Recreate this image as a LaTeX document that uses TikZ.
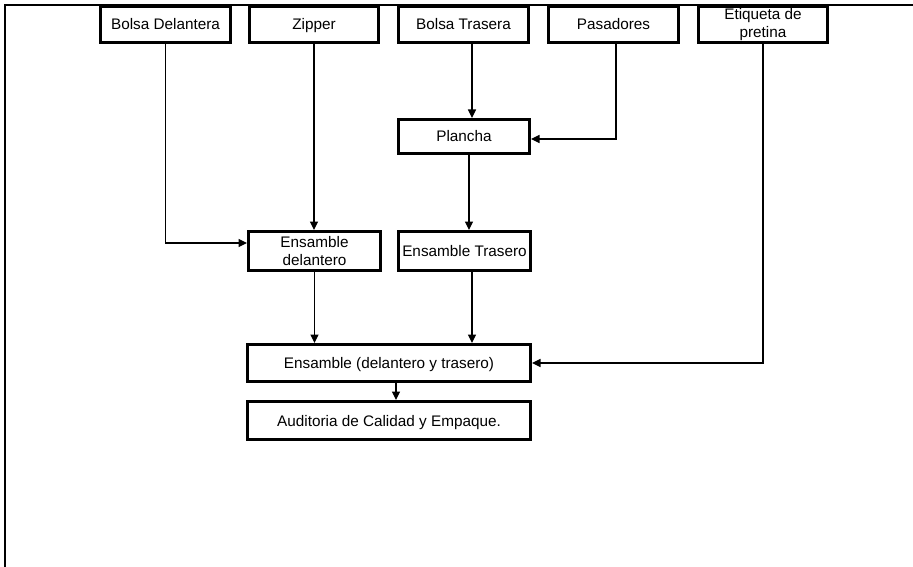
\documentclass[tikz,border=0pt]{standalone}
\usepackage{fontspec}
\setmainfont{Liberation Sans}
\usetikzlibrary{arrows.meta,calc}

\begin{document}
\begin{tikzpicture}[x=1pt,y=-1pt,
  box/.style={draw, line width=3.2pt, inner sep=0pt, align=center,
              font=\fontsize{15.3}{18.5}\selectfont},
  oneline/.style={box, text height=11pt, text depth=0pt},
  link/.style={line width=1.1pt, -{Triangle[length=8.5pt,width=8pt]}},
  frame/.style={line width=2.2pt}]
\useasboundingbox (0,0) rectangle (913,567);

% page frame (left and top edges)
\draw[frame] (5,567) -- (5,5) -- (913,5);

% inputs along the top
\node[oneline, minimum width=129.8pt, minimum height=35.8pt] (bd)  at (165.5,24.5) {Bolsa Delantera};
\node[oneline, minimum width=128.8pt, minimum height=35.8pt] (zip) at (314,24.5)   {Zipper};
\node[oneline, minimum width=129.8pt, minimum height=35.8pt] (bt)  at (463.5,24.5) {Bolsa Trasera};
\node[oneline, minimum width=129.8pt, minimum height=35.8pt] (pas) at (613.5,24.5) {Pasadores};
\node[box, minimum width=128.8pt, minimum height=35.8pt] (etq) at (763,24.5)   {Etiqueta de\\pretina};

% process steps
\node[oneline, minimum width=130.8pt, minimum height=33.8pt] (pl)  at (464,136.5)  {Plancha};
\node[box, minimum width=131.8pt, minimum height=38.8pt] (ed)  at (314.5,251)  {Ensamble\\delantero};
\node[oneline, minimum width=131.8pt, minimum height=38.8pt] (et)  at (464.5,251)  {Ensamble Trasero};
\node[oneline, minimum width=282.8pt, minimum height=36.8pt] (dyt) at (389,363)    {Ensamble (delantero y trasero)};
\node[oneline, minimum width=282.8pt, minimum height=37.8pt] (aud) at (389,420.5)  {Auditoria de Calidad y Empaque.};

% connectors
\draw[link] (bd.south) |- ($(ed.west)+(0,-8)$);
\draw[link] (zip.south) -- (zip.south |- ed.north);
\draw[link] ($(bt.south)+(8.5,0)$) -- ($(pl.north)+(8,0)$);
\draw[link] ($(pas.south)+(2.5,0)$) |- ($(pl.east)+(0,2.5)$);
\draw[link] ($(pl.south)+(5,0)$) -- ($(et.north)+(4.5,0)$);
\draw[link] (ed.south) -- (ed.south |- dyt.north);
\coordinate (etout) at ($(et.south)+(7.5,0)$);
\draw[link] (etout) -- (etout |- dyt.north);
\draw[link] (etq.south) |- (dyt.east);
\draw[link] ($(dyt.south)+(7,0)$) -- ($(aud.north)+(7,0)$);
\end{tikzpicture}
\end{document}
